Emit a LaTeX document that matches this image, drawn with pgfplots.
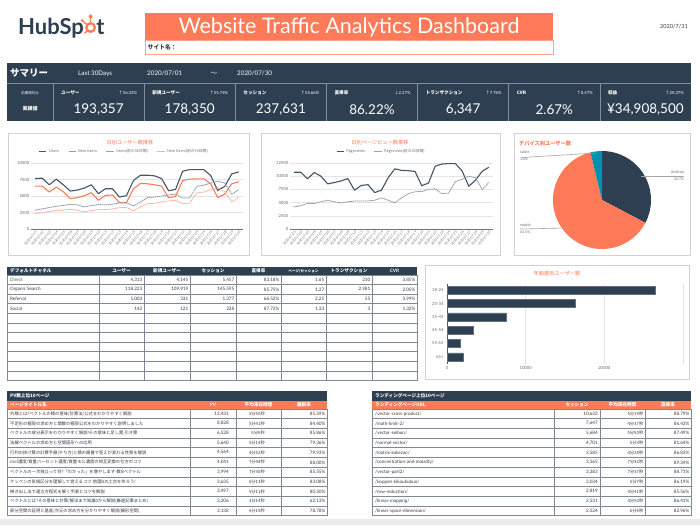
\documentclass[border=0pt]{standalone}
\usepackage{pgfplots}
\usepackage{pgfplotstable}
\pgfplotsset{compat=1.18}
\usepackage{fontspec}
\setmainfont{Lato}
\newfontfamily\jp{Noto Sans CJK JP}
\newcommand\fs[1]{\fontsize{#1}{#1}\selectfont}

\definecolor{navy}{HTML}{2E3F52}
\definecolor{hsorange}{HTML}{FF7A59}
\definecolor{hsteal}{HTML}{0091AE}
\definecolor{lorange}{HTML}{FFAE98}
\definecolor{slate}{HTML}{45556A}
\definecolor{prevgrey}{HTML}{8E9AAA}
\definecolor{framec}{HTML}{D2D2D2}
\definecolor{tline}{HTML}{7D8997}
\definecolor{sepc}{HTML}{7F90A5}
\definecolor{txt}{HTML}{3A3A3A}
\definecolor{ticktxt}{HTML}{6E6E6E}

% daily figures, 2020-07-01 .. 2020-07-30
\pgfplotstableread{
d users newusers uprev nprev pv pvprev
0 7650 6500 2850 2350 10750 4200
1 7700 6500 3050 2450 10750 4400
2 6700 5600 3250 2650 9500 4850
3 7550 6350 3450 2800 10700 4850
4 6700 5650 3550 2850 10000 5150
5 5750 4600 3750 3000 8550 5450
6 5900 4750 3650 2850 8800 5150
7 6200 5050 3350 2600 9100 4950
8 6700 5500 3550 2800 9550 5150
9 5350 4350 3700 2950 7350 5300
10 6100 5100 3650 2950 8250 5300
11 6100 5150 3750 3050 8400 5300
12 4850 4000 3950 3250 6900 5450
13 5050 4000 3950 3250 7350 5900
14 7350 6100 3500 2750 9700 5450
15 8150 6900 4100 3350 11400 4950
16 8150 6850 4750 3850 11100 5900
17 8050 6700 4850 3900 11050 6700
18 7650 6500 5000 4100 10900 7050
19 5800 4750 5150 4250 8200 7100
20 6000 4950 5300 4350 8700 7500
21 8750 7350 4700 3850 11900 7600
22 9000 7550 4700 3900 12300 6700
23 9000 7600 6450 5450 12400 6800
24 9000 7600 6650 5600 12400 9000
25 8100 6850 6950 5950 11000 9400
26 5850 4750 7250 6250 8100 10000
27 6450 5300 6950 5650 9250 9700
28 8350 6850 5250 4100 10950 7500
29 8650 7150 5950 4850 11700 8800
}\daily

\pgfplotsset{
  daily axis/.style={
    scale only axis, anchor=south west,
    xmin=-0.6, xmax=29.6, ymin=0,
    axis x line*=bottom, axis y line*=left,
    y axis line style={draw=none},
    x axis line style={draw=black!55, line width=0.7pt},
    major tick length=0pt,
    ymajorgrids, grid style={black!10, line width=0.5pt},
    xtick={0,...,29},
    xticklabels={2020-07-01,2020-07-02,2020-07-03,2020-07-04,2020-07-05,2020-07-06,2020-07-07,2020-07-08,2020-07-09,2020-07-10,2020-07-11,2020-07-12,2020-07-13,2020-07-14,2020-07-15,2020-07-16,2020-07-17,2020-07-18,2020-07-19,2020-07-20,2020-07-21,2020-07-22,2020-07-23,2020-07-24,2020-07-25,2020-07-26,2020-07-27,2020-07-28,2020-07-29,2020-07-30},
    x tick label style={rotate=50, anchor=north east, font=\fs{3.3}, text=ticktxt, inner sep=1pt},
    y tick label style={font=\fs{4.2}, text=ticktxt, inner sep=1.5pt},
    scaled y ticks=false,
    legend style={draw=none, fill=none, legend columns=-1, font=\jp\fs{3.8}, text=ticktxt,
      /tikz/every even column/.append style={column sep=7pt}},
    legend image code/.code={\draw[##1, line width=1.3pt] (0pt,0pt) -- (7pt,0pt);},
    /pgf/number format/.cd, 1000 sep={}, assume math mode=true
  },
  solidline/.style={line width=1.1pt, line join=round},
  dotline/.style={line width=0.9pt, dash pattern=on 0.9pt off 1.1pt, line cap=round},
}

\tikzset{tc/.style={inner sep=0pt, font=\fs{4.6}, text=txt}}

% one row of the channel table: index, name, then seven figures
\newcommand\chrow[9]{%
  \pgfmathsetmacro\yy{279.8+9.6*#1}%
  \node[tc,anchor=west] at (10,\yy) {#2};%
  \node[tc,anchor=east] at (142.5,\yy) {#3};%
  \node[tc,anchor=east] at (188.5,\yy) {#4};%
  \node[tc,anchor=east] at (234.5,\yy) {#5};%
  \node[tc,anchor=east] at (279.5,\yy) {#6};%
  \node[tc,anchor=east] at (324.5,\yy) {#7};%
  \node[tc,anchor=east] at (370.5,\yy) {#8};%
  \node[tc,anchor=east] at (415.5,\yy) {#9};%
}
% one row of the top-pages table
\newcommand\pvrow[5]{%
  \pgfmathsetmacro\yy{413.85+9.7*#1}%
  \node[tc,anchor=west,font=\jp\fs{4.3}] at (10,\yy) {#2};%
  \node[tc,anchor=east] at (229,\yy) {#3};%
  \node[tc,anchor=east,font=\jp\fs{4.3}] at (265,\yy) {#4};%
  \node[tc,anchor=east] at (325.5,\yy) {#5};%
}
% one row of the landing-page table
\newcommand\lprow[5]{%
  \pgfmathsetmacro\yy{413.85+9.7*#1}%
  \node[tc,anchor=west] at (375,\yy) {#2};%
  \node[tc,anchor=east] at (598,\yy) {#3};%
  \node[tc,anchor=east,font=\jp\fs{4.3}] at (643.5,\yy) {#4};%
  \node[tc,anchor=east] at (689.5,\yy) {#5};%
}
% one KPI cell of the summary band
\newcommand\kpi[4]{%
  \pgfmathsetmacro\xa{53+91.14*(#1-1)}%
  \pgfmathsetmacro\xb{\xa+91.14}%
  \pgfmathsetmacro\xc{\xa+45.57}%
  \node[inner sep=0pt,anchor=west,text=white,font=\jp\bfseries\fs{4.6}] at (\xa+8,93) {#2};%
  \node[inner sep=0pt,anchor=east,text=white,font=\fs{4.2}] at (\xb-7,93) {#3};%
  \node[inner sep=0pt,text=white,font=\fs{13.5}] at (\xc,110) {#4};%
}

\begin{document}
\begin{tikzpicture}
\useasboundingbox (0pt,0pt) rectangle (700pt,-525pt);
\begin{scope}[x=1pt,y=-1pt]
\fill[white] (0,0) rectangle (700,525);
\fill[black!8] (0,519) rectangle (700,525);

% ---------- header ----------
\node[inner sep=0pt,anchor=base west,text=navy,font=\bfseries\fs{22}] (hs) at (18,34) {HubSp};
\begin{scope}[shift={(hs.base east)}]
  \draw[hsorange, line width=2.3pt] (6.5,-6.5) circle[radius=4.3];
  \draw[hsorange, line width=1.6pt] (6.5,-11) -- (6.5,-16.5);
  \fill[hsorange] (6.5,-17.5) circle[radius=2];
  \draw[hsorange, line width=1.4pt] (3.2,-3.5) -- (0.3,-0.6);
  \draw[hsorange, line width=1.4pt] (2.5,-9.5) -- (-1.5,-13);
  \fill[hsorange] (-2,-13.5) circle[radius=1.5];
  \node[inner sep=0pt,anchor=base west,text=navy,font=\bfseries\fs{22}] at (12,0) {t};
\end{scope}

\fill[hsorange] (145,13) rectangle (553,40);
\draw[hsorange!70, line width=0.8pt] (145,40) rectangle (553,54.5);
\node[inner sep=0pt,text=white,font=\fs{21.5}] at (349,27) {Website Traffic Analytics Dashboard};
\node[inner sep=0pt,anchor=west,text=txt,font=\jp\bfseries\fs{5.8}] at (147.5,47.3) {サイト名：};
\node[inner sep=0pt,anchor=east,text=txt,font=\fs{5.6}] at (688,27) {2020/7/31};

% ---------- summary band ----------
\fill[navy] (7,63) rectangle (691,120.5);
\draw[sepc, line width=0.7pt] (7,83) -- (691,83);
\foreach \k in {0,...,6} {\draw[sepc, line width=0.7pt] ({53+91.14*\k},83) -- ({53+91.14*\k},120.5);}
\node[inner sep=0pt,anchor=west,text=white,font=\jp\bfseries\fs{9.5}] at (10,73) {サマリー};
\node[inner sep=0pt,anchor=west,text=white,font=\fs{6.3}] at (78,73.5) {Last 30Days};
\node[inner sep=0pt,anchor=west,text=white,font=\fs{6.3}] at (147,73.5) {2020/07/01};
\node[inner sep=0pt,text=white,font=\jp\fs{6.3}] at (214,73.5) {〜};
\node[inner sep=0pt,anchor=west,text=white,font=\fs{6.3}] at (237,73.5) {2020/07/30};
\node[inner sep=0pt,text=white,font=\jp\fs{3.5}] at (30,93) {前期間対比};
\node[inner sep=0pt,text=white,font=\jp\bfseries\fs{5}] at (30,109) {実績値};
\kpi{1}{ユーザー}{{\jp ↑}56.33\%}{193,357}
\kpi{2}{新規ユーザー}{{\jp ↑}55.74\%}{178,350}
\kpi{3}{セッション}{{\jp ↑}55.66\%}{237,631}
\kpi{4}{直帰率}{{\jp ↓}2.27\%}{86.22\%}
\kpi{5}{トランザクション}{{\jp ↑}7.76\%}{6,347}
\kpi{6}{CVR}{{\jp ↑}0.47\%}{2.67\%}
\kpi{7}{収益}{{\jp ↑}20.37\%}{¥34,908,500}

% ---------- chart frames ----------
\draw[framec, line width=0.9pt] (8,133) rectangle (249,255.5);
\draw[framec, line width=0.9pt] (261,133) rectangle (500,255.5);
\draw[framec, line width=0.9pt] (514,133) rectangle (690,255.5);
\draw[framec, line width=0.9pt] (425,265) rectangle (689,379);

\node[inner sep=0pt,text=hsorange,font=\jp\fs{5.2}] at (130,143) {日別ユーザー数推移};
\node[inner sep=0pt,text=hsorange,font=\jp\fs{5.2}] at (380,143) {日別ページビュー数推移};
\node[inner sep=0pt,anchor=west,text=hsorange,font=\jp\bfseries\fs{5.2}] at (519,143) {デバイス別ユーザー数};
\node[inner sep=0pt,text=hsorange,font=\jp\fs{5.2}] at (557,274) {年齢層別ユーザー数};

% ---------- device pie (desktop 32.7, mobile 63.5, tablet 3.8) ----------
\begin{scope}[shift={(602,200)}]
  \fill[navy] (0,0) -- (-90:49) arc[start angle=-90, end angle={-90+3.6*32.7}, radius=49] -- cycle;
  \fill[hsorange] (0,0) -- ({-90+3.6*32.7}:49) arc[start angle={-90+3.6*32.7}, end angle={-90+3.6*96.2}, radius=49] -- cycle;
  \fill[hsteal] (0,0) -- ({-90+3.6*96.2}:49) arc[start angle={-90+3.6*96.2}, end angle=270, radius=49] -- cycle;
\end{scope}
\draw[black!35, line width=0.6pt] (522,157.5) -- (596,153);
\draw[black!35, line width=0.6pt] (641,176) -- (684,176);
\draw[black!35, line width=0.6pt] (520,229) -- (565,228);
\node[inner sep=0pt,anchor=west,text=ticktxt,font=\fs{3.6}] at (520,152.5) {tablet};
\node[inner sep=0pt,anchor=west,text=ticktxt,font=\fs{3.6}] at (520,159) {3.8\%};
\node[inner sep=0pt,anchor=east,text=ticktxt,font=\fs{3.6}] at (684,172.5) {desktop};
\node[inner sep=0pt,anchor=east,text=ticktxt,font=\fs{3.6}] at (684,179.5) {32.7\%};
\node[inner sep=0pt,anchor=west,text=ticktxt,font=\fs{3.6}] at (520,225.5) {mobile};
\node[inner sep=0pt,anchor=west,text=ticktxt,font=\fs{3.6}] at (520,232) {63.5\%};

% ---------- channel table ----------
\foreach \a/\b in {7/99,99/144,144/190,190/236,236/281,281/326,326/372,372/417}
  {\fill[navy] (\a+0.4,267) rectangle (\b-0.4,275);}
\node[inner sep=0pt,anchor=west,text=white,font=\jp\bfseries\fs{4.6}] at (10,271) {デフォルトチャネル};
\foreach \x/\t in {121.5/ユーザー,167/新規ユーザー,213/セッション,258.5/直帰率,349/トランザクション}
  {\node[inner sep=0pt,text=white,font=\jp\bfseries\fs{4.6}] at (\x,271) {\t};}
\node[inner sep=0pt,text=white,font=\jp\bfseries\fs{3.6}] at (303.5,271) {ページ/セッション};
\node[inner sep=0pt,text=white,font=\bfseries\fs{4.6}] at (394.5,271) {CVR};
\foreach \i in {0,...,11} {\draw[tline, line width=0.7pt] (7,{275+9.6*\i}) -- (417,{275+9.6*\i});}
\foreach \x in {7,99,144,190,236,281,326,372,417} {\draw[tline, line width=0.7pt] (\x,275) -- (\x,380.6);}
\chrow{0}{\textcolor{slate}{Direct}}{4,313}{4,145}{5,457}{83.18\%}{1.65}{210}{3.85\%}
\chrow{1}{Organic Search}{118,223}{109,919}{145,595}{85.75\%}{1.27}{2,981}{2.05\%}
\chrow{2}{Referral}{1,003}{331}{1,377}{66.52\%}{2.25}{55}{3.99\%}
\chrow{3}{Social}{142}{121}{228}{87.72\%}{1.33}{3}{1.32\%}

% ---------- top pages by PV ----------
\fill[navy] (7,391) rectangle (327,401);
\node[inner sep=0pt,anchor=west,text=white,font=\jp\bfseries\fs{4.6}] at (10,396) {PV数上位10ページ};
\foreach \a/\b in {7/190,190/236,236/281,281/327} {\fill[hsorange] (\a+0.3,401) rectangle (\b-0.3,409);}
\node[inner sep=0pt,anchor=west,text=white,font=\jp\bfseries\fs{4.6}] at (10,405) {ページタイトル名};
\node[inner sep=0pt,text=white,font=\bfseries\fs{4.6}] at (213,405) {PV};
\node[inner sep=0pt,text=white,font=\jp\bfseries\fs{4.6}] at (258.5,405) {平均滞在時間};
\node[inner sep=0pt,text=white,font=\jp\bfseries\fs{4.6}] at (304,405) {離脱率};
\foreach \i in {0,...,11} {\draw[tline, line width=0.7pt] (7,{409+9.7*\i}) -- (327,{409+9.7*\i});}
\foreach \x in {7,190,236,281,327} {\draw[tline, line width=0.7pt] (\x,409) -- (\x,515.7);}
\pvrow{0}{外積とは?ベクトルの積の意味/計算法/公式をわかりやすく解説}{12,431}{5分50秒}{85.59\%}
\pvrow{1}{不定形の極限の求め方と関数の極限公式をわかりやすく説明しました}{8,828}{5分41秒}{84.40\%}
\pvrow{2}{ベクトルの成分表示をわかりやすく解説!その意味と足し算,引き算}{6,528}{6分6秒}{85.86\%}
\pvrow{3}{法線ベクトルの求め方と空間図形への応用}{5,640}{5分14秒}{79.36\%}
\pvrow{4}{行列の掛け算の計算手順(やり方)と積の順番で答えが変わる性質を解説}{4,564}{4分52秒}{79.93\%}
\pvrow{5}{mol濃度/質量パーセント濃度/質量モル濃度の相互変換の仕方のコツ}{4,041}{7分44秒}{88.00\%}
\pvrow{6}{ベクトルの一次独立って何?「わかった」を増やします-数Bベクトル}{3,994}{7分30秒}{85.55\%}
\pvrow{7}{ケッペンの気候区分を理解して覚えるコツ:地理Bの土台を作ろう!}{3,635}{6分13秒}{83.08\%}
\pvrow{8}{掃き出し法で連立方程式を解く手順とコツを解説}{3,497}{5分11秒}{80.50\%}
\pvrow{9}{ベクトルとは?その意味と計算/解法まで知識0から解説(厳選記事まとめ)}{3,206}{3分14秒}{62.13\%}
\pvrow{10}{部分空間の証明と基底/次元の求め方を分かりやすく解説(線形空間)}{3,138}{6分19秒}{78.78\%}

% ---------- top landing pages ----------
\fill[navy] (372,391) rectangle (691,401);
\node[inner sep=0pt,anchor=west,text=white,font=\jp\bfseries\fs{4.6}] at (375,396) {ランディングページ上位10ページ};
\foreach \a/\b in {372/554,554/600,600/645,645/691} {\fill[hsorange] (\a+0.3,401) rectangle (\b-0.3,409);}
\node[inner sep=0pt,anchor=west,text=white,font=\jp\bfseries\fs{4.6}] at (375,405) {ランディングページURL};
\node[inner sep=0pt,text=white,font=\jp\bfseries\fs{4.6}] at (577,405) {セッション};
\node[inner sep=0pt,text=white,font=\jp\bfseries\fs{4.6}] at (622.5,405) {平均滞在時間};
\node[inner sep=0pt,text=white,font=\jp\bfseries\fs{4.6}] at (668,405) {直帰率};
\foreach \i in {0,...,11} {\draw[tline, line width=0.7pt] (372,{409+9.7*\i}) -- (691,{409+9.7*\i});}
\foreach \x in {372,554,600,645,691} {\draw[tline, line width=0.7pt] (\x,409) -- (\x,515.7);}
\lprow{0}{/vector-cross-product/}{10,632}{5分19秒}{88.79\%}
\lprow{1}{/math-limit-2/}{7,647}{4分37秒}{86.43\%}
\lprow{2}{/vector-seibun/}{5,684}{5分50秒}{87.49\%}
\lprow{3}{/normal-vector/}{4,701}{5分3秒}{81.64\%}
\lprow{4}{/matrix-kakezan/}{3,585}{4分28秒}{86.83\%}
\lprow{5}{/concentration-and-molality/}{3,565}{7分32秒}{89.34\%}
\lprow{6}{/vector-part2/}{3,383}{7分37秒}{88.71\%}
\lprow{7}{/koppen-kikoukubun/}{3,034}{5分7秒}{86.19\%}
\lprow{8}{/row-reduction/}{2,819}{4分41秒}{85.56\%}
\lprow{9}{/linear-mapping/}{2,531}{4分50秒}{86.41\%}
\lprow{10}{/linear-space-dimension/}{2,524}{6分6秒}{82.96\%}
\end{scope}

% ---------- daily users ----------
\begin{axis}[daily axis, at={(31pt,-229pt)}, width=212pt, height=66pt, ymax=10000,
  ytick={0,2500,5000,7500,10000},
  legend style={at={(0.44,1)}, anchor=south, yshift=5pt}]
\addplot[slate, solidline] table[x=d, y=users] {\daily};
\addlegendentry{Users}
\addplot[hsorange, solidline] table[x=d, y=newusers] {\daily};
\addlegendentry{New Users}
\addplot[prevgrey, dotline] table[x=d, y=uprev] {\daily};
\addlegendentry{Users(前の30日間)}
\addplot[lorange, dotline] table[x=d, y=nprev] {\daily};
\addlegendentry{New Users(前の30日間)}
\end{axis}

% ---------- daily pageviews ----------
\begin{axis}[daily axis, at={(290pt,-229pt)}, width=203pt, height=66pt, ymax=12500,
  ytick={0,2500,5000,7500,10000,12500},
  legend style={at={(0.45,1)}, anchor=south, yshift=5pt}]
\addplot[slate, solidline] table[x=d, y=pv] {\daily};
\addlegendentry{Pageviews}
\addplot[prevgrey, dotline] table[x=d, y=pvprev] {\daily};
\addlegendentry{Pageviews(前の30日間)}
\end{axis}

% ---------- users by age ----------
\begin{axis}[at={(447pt,-363.5pt)}, anchor=south west, scale only axis, width=236pt, height=80pt,
  xbar, bar width=8pt, xmin=0, xmax=30000, ymin=-0.5, ymax=5.5, y dir=reverse,
  ytick={0,...,5}, yticklabels={18-24,25-34,35-44,45-54,55-64,65+},
  xtick={0,10000,20000,30000}, xticklabels={0,10000,20000,{}},
  xmajorgrids, grid style={black!10, line width=0.5pt},
  axis x line*=bottom, axis y line*=left,
  x axis line style={draw=none}, y axis line style={draw=black!65, line width=0.7pt},
  major tick length=0pt, scaled x ticks=false,
  tick label style={font=\fs{4.2}, text=ticktxt},
  x tick label style={inner sep=3pt},
  /pgf/number format/.cd, 1000 sep={}, assume math mode=true]
\addplot[fill=navy, draw=navy!75!white, line width=0.4pt]
  coordinates {(26450,0) (16330,1) (7470,2) (3290,3) (1650,4) (2030,5)};
\end{axis}
\end{tikzpicture}
\end{document}
